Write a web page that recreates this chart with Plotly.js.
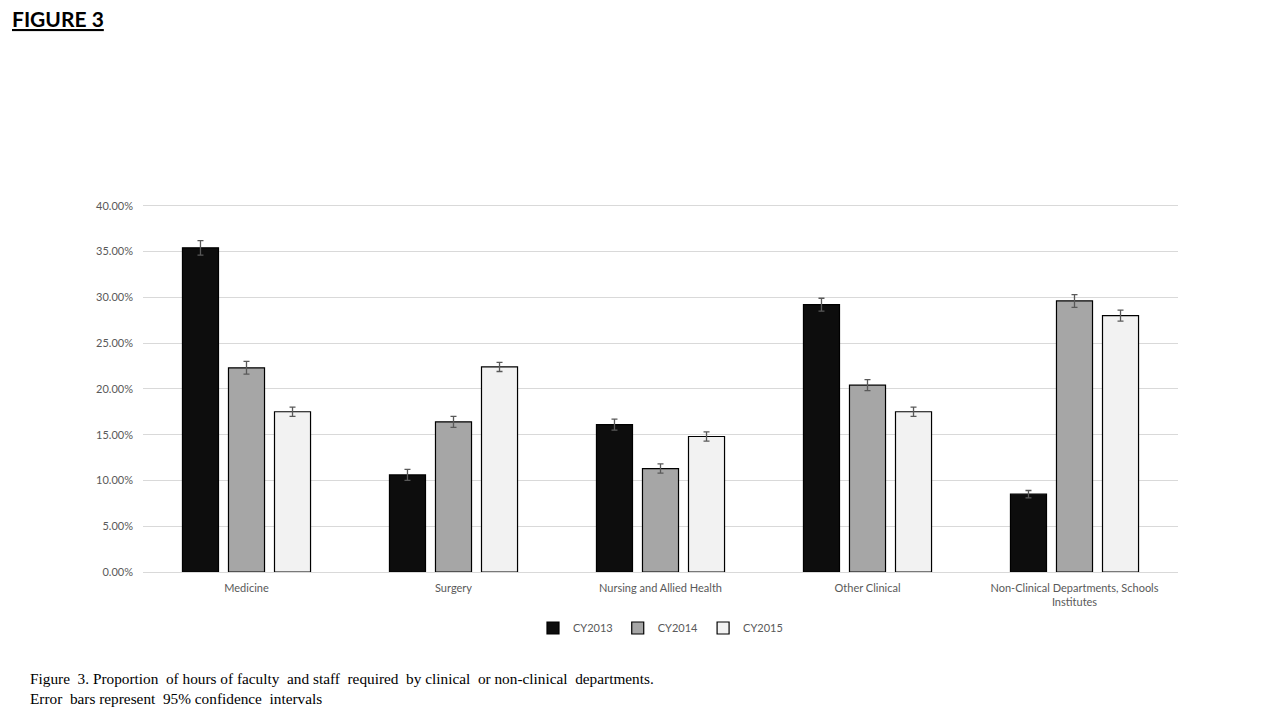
<!DOCTYPE html>
<html><head><meta charset="utf-8">
<script src="https://cdn.plot.ly/plotly-3.0.1.min.js"></script>
<style>body{margin:0;background:#fff}#chart{width:1280px;height:720px}</style>
</head><body><div id="chart"></div>
<script>
const categories = ["Medicine", "Surgery", "Nursing and Allied Health", "Other Clinical", "Non-Clinical Departments, Schools<br>Institutes"];
const seriesNames = ["CY2013", "CY2014", "CY2015"];
const cy2013 = [0.354, 0.106, 0.161, 0.292, 0.085];
const cy2014 = [0.223, 0.164, 0.113, 0.204, 0.296];
const cy2015 = [0.175, 0.224, 0.148, 0.175, 0.280];
const err2013 = [0.008, 0.006, 0.006, 0.007, 0.004];
const err2014 = [0.007, 0.006, 0.005, 0.006, 0.007];
const err2015 = [0.005, 0.005, 0.005, 0.005, 0.006];
const colors = ["#0d0d0d", "#a6a6a6", "#f2f2f2"];
const tickVals = [0, 0.05, 0.10, 0.15, 0.20, 0.25, 0.30, 0.35, 0.40];

const values = [cy2013, cy2014, cy2015];
const errs = [err2013, err2014, err2015];
const traces = seriesNames.map((n, i) => ({
  type: "bar", name: n, x: categories, y: values[i],
  marker: {color: colors[i], line: {color: "#000", width: 1.2}},
  error_y: {type: "data", array: errs[i], visible: true, color: "#595959", thickness: 1.3, width: 3},
  hoverinfo: "none"
}));

const yTop = 0.403;
const plotH = 720 - 203 - 148;
const layout = {
  width: 1280, height: 720,
  margin: {l: 143, r: 102, t: 203, b: 148},
  paper_bgcolor: "#fff", plot_bgcolor: "#fff",
  barmode: "group", bargap: 0.333, bargroupgap: 0.217,
  font: {family: "Lato, Open Sans, sans-serif", color: "#595959", size: 11},
  xaxis: {showline: false, ticks: "", tickfont: {size: 11, color: "#595959"}, ticklabelstandoff: 8, automargin: false},
  yaxis: {range: [0, yTop], tickvals: tickVals, tickformat: ".2%", showgrid: true, gridcolor: "#d9d9d9", gridwidth: 1,
          zeroline: true, zerolinecolor: "#d9d9d9", zerolinewidth: 1, showline: false, ticks: "", ticklen: 0,
          ticklabelstandoff: 9, tickfont: {size: 11, color: "#595959"}, automargin: false},
  showlegend: true,
  legend: {orientation: "h", x: 0.5, xanchor: "center", y: -(628-572)/plotH, yanchor: "middle", font: {size: 11, color: "#595959"},
           itemwidth: 30, traceorder: "normal"},
  annotations: [
    {text: "<b><u>FIGURE 3</u></b>", xref: "paper", yref: "paper", x: (10-143)/1035, y: 1 + (203-19)/plotH, xanchor: "left", yanchor: "middle",
     showarrow: false, font: {family: "Lato, Open Sans, sans-serif", size: 21, color: "#000"}},
    {text: "Figure  3. Proportion  of hours of faculty  and staff  required  by clinical  or non-clinical  departments.<br>Error  bars represent  95% confidence  intervals",
     xref: "paper", yref: "paper", x: (28-143)/1035, y: -(688-572)/plotH, xanchor: "left", yanchor: "middle", align: "left",
     showarrow: false, font: {family: "Liberation Serif, Times New Roman, serif", size: 15.3, color: "#000"}}
  ]
};
Plotly.newPlot("chart", traces, layout, {staticPlot: true, displayModeBar: false});
</script></body></html>
